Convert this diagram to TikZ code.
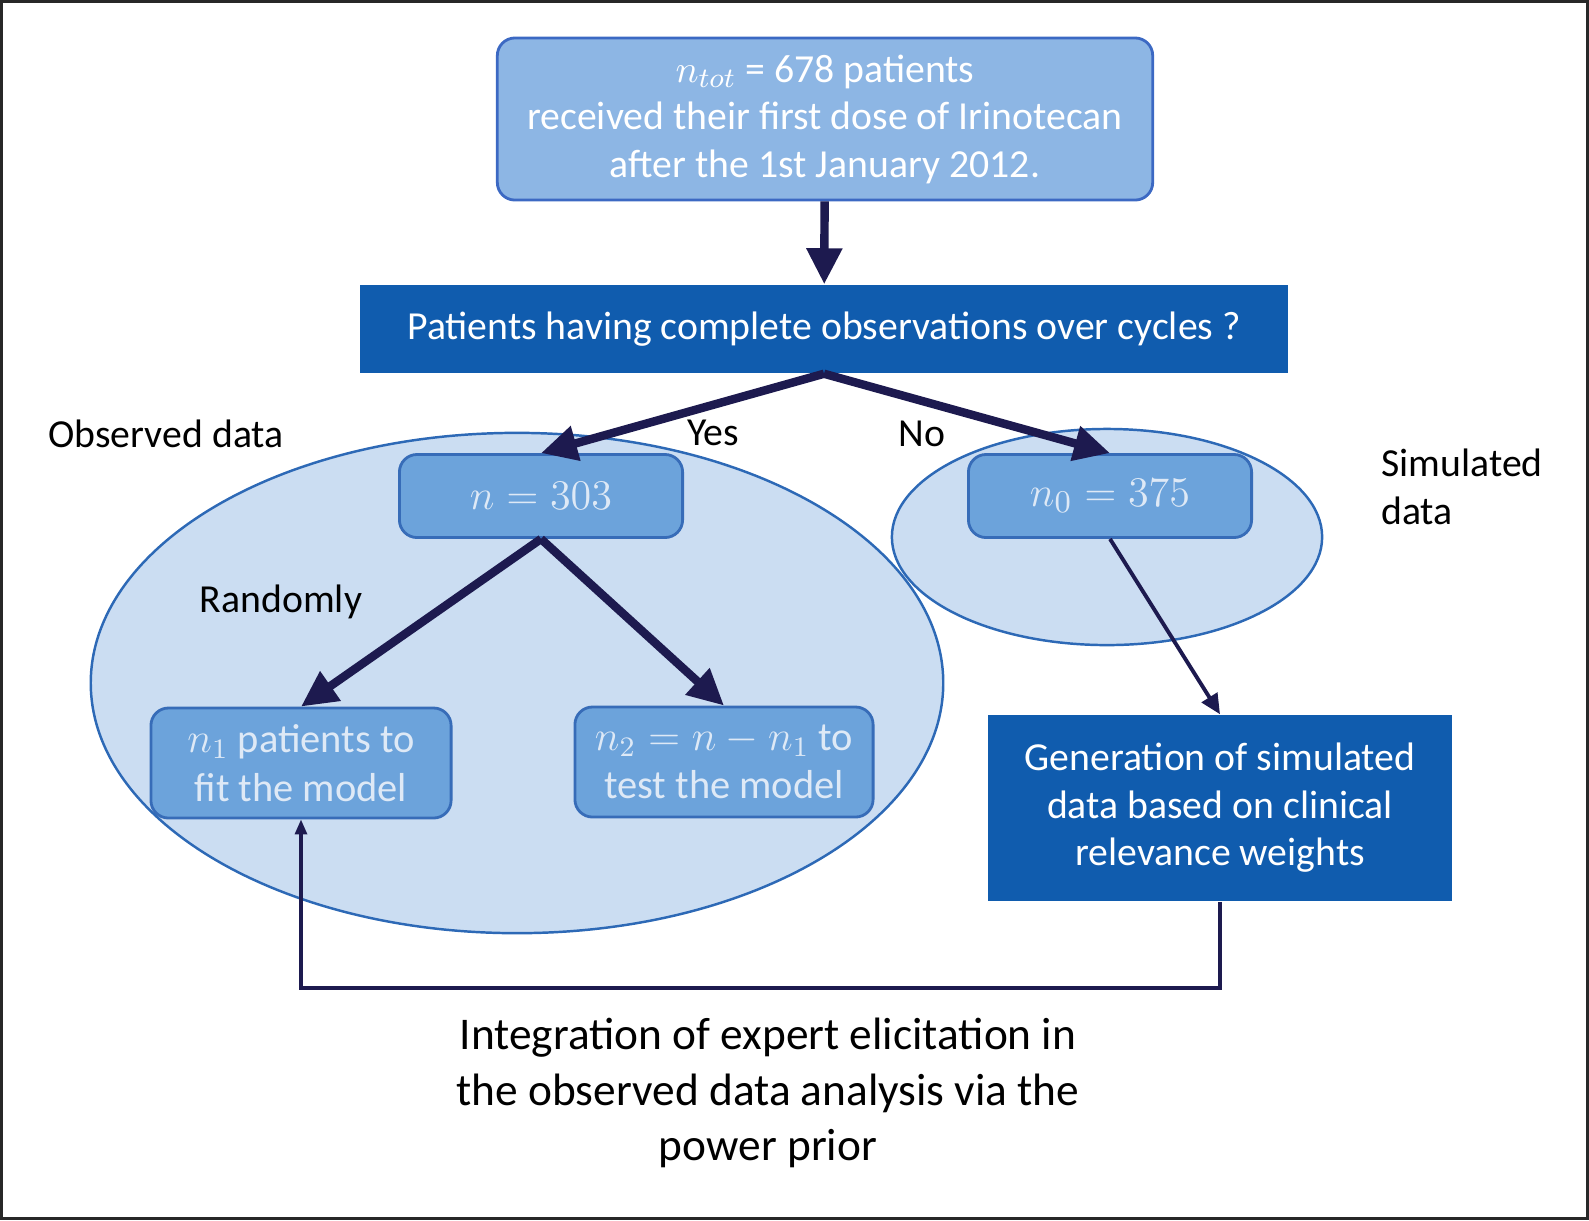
\documentclass[tikz,border=0pt]{standalone}
\usepackage{fontspec}
\setmainfont{Carlito}
\usetikzlibrary{shapes.geometric,arrows.meta,positioning,calc}

\definecolor{navy}{RGB}{29,26,79}
\definecolor{topfill}{RGB}{141,182,228}
\definecolor{topline}{RGB}{60,105,195}
\definecolor{darkfill}{RGB}{16,92,174}
\definecolor{midfill}{RGB}{108,163,219}
\definecolor{midline}{RGB}{55,108,184}
\definecolor{midtext}{RGB}{222,233,246}
\definecolor{areafill}{RGB}{203,221,242}
\definecolor{arealine}{RGB}{45,105,182}
\definecolor{framegray}{RGB}{40,40,40}

\tikzset{
  topbox/.style={rectangle, rounded corners=5pt, draw=topline, line width=0.8pt, fill=topfill, text=white, align=center},
  darkbox/.style={rectangle, fill=darkfill, text=white, align=center},
  midbox/.style={rectangle, rounded corners=5pt, draw=midline, line width=0.8pt, fill=midfill, text=midtext, align=center},
  area/.style={ellipse, draw=arealine, line width=0.7pt, fill=areafill},
  tag/.style={text=black},
  bigarrow/.style={draw=navy, line width=2.4pt, -{Triangle[length=0.36cm,width=0.34cm]}},
  thinarrow/.style={draw=navy, line width=1.1pt, -{Triangle[length=0.2cm,width=0.18cm]}},
  backarrow/.style={draw=navy, line width=0.9pt, -{Triangle[length=0.15cm,width=0.12cm]}}
}

\begin{document}
\begin{tikzpicture}[x=0.01cm, y=-0.01cm, font=\fontsize{11.3}{13.5}\selectfont]
\useasboundingbox (0,0) rectangle (1589,1220);
\draw[framegray, line width=0.8pt] (1.5,1.5) rectangle (1587.5,1218.5);

% regions
\node (obsarea) [area, minimum width=8.52cm, minimum height=5.0cm] at (517,683) {};
\node (simarea) [area, minimum width=4.30cm, minimum height=2.16cm] at (1107,537) {};

% boxes
\node (top) [topbox, minimum width=6.55cm, minimum height=1.62cm] at (825,119)
  {$n_{tot}$ = 678 patients\\received their first dose of Irinotecan\\after the 1st January 2012.};
\node (check) [darkbox, minimum width=9.28cm, minimum height=0.88cm] at (824,329)
  {Patients having complete observations over cycles ?};
\node (obs) [midbox, minimum width=2.83cm, minimum height=0.83cm, font=\fontsize{13}{15}\selectfont] at (541,496) {$n = 303$};
\node (sim) [midbox, minimum width=2.83cm, minimum height=0.83cm, font=\fontsize{13}{15}\selectfont] at (1110,496) {$n_0 = 375$};
\node (fit) [midbox, minimum width=3.0cm, minimum height=1.1cm, font=\fontsize{11.5}{13.8}\selectfont] at (301,763)
  {$n_1$ patients to\\fit the model};
\node (test) [midbox, minimum width=2.98cm, minimum height=1.1cm, font=\fontsize{11.5}{13.8}\selectfont] at (724,762)
  {$n_2 = n - n_1$ to\\test the model};
\node (gen) [darkbox, minimum width=4.64cm, minimum height=1.86cm] at (1220,808)
  {Generation of simulated\\data based on clinical\\relevance weights};

% labels
\node (observed) [tag, anchor=west] at (36,434) {Observed data};
\node (simulated) [tag, anchor=west, align=left] at (1369,487) {Simulated\\data};
\node (yes) [tag] at (713,433) {Yes};
\node (no) [tag] at (922,434) {No};
\node (random) [tag] at (281,602) {Randomly};
\node (summary) [tag, align=center, font=\fontsize{12.9}{15.7}\selectfont] at (768,1093)
  {Integration of expert elicitation in\\the observed data analysis via the\\power prior};

% arrows
\draw[bigarrow] (top) -- (check);
\draw[bigarrow] (check.south) -- (obs.north);
\draw[bigarrow] (check.south) -- (sim.north);
\draw[bigarrow] (obs.south) -- (fit.north);
\draw[bigarrow] (obs.south) -- (test.north);
\draw[thinarrow] (sim.south) -- (gen.north);
\coordinate (loop) at (760,988);
\draw[backarrow] (gen.south) |- (loop) -| (fit.south);
\end{tikzpicture}
\end{document}
